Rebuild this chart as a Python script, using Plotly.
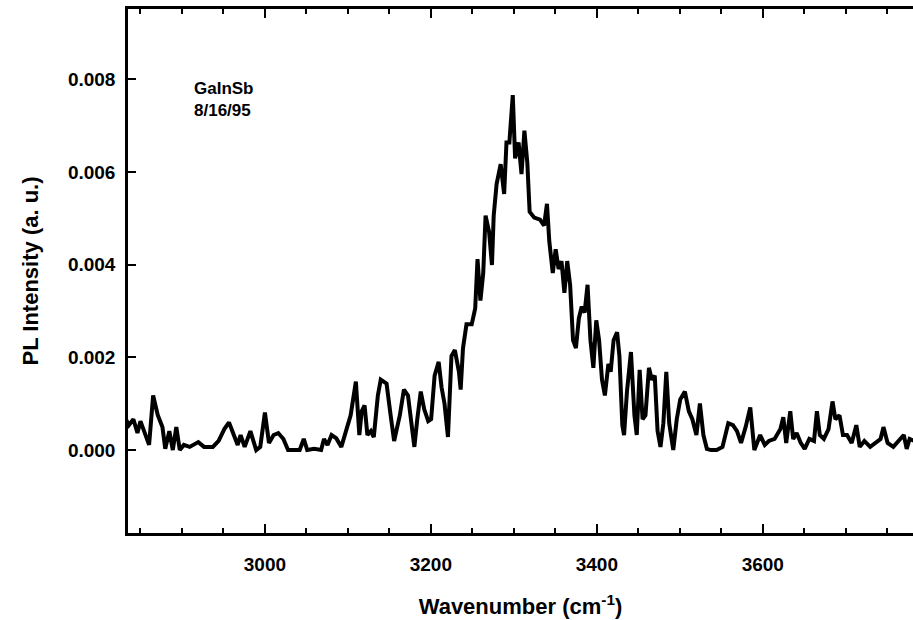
import plotly.graph_objects as go

# Wavenumber (cm^-1)
wavenumber = [
    2832.5, 2836.0, 2841.5, 2846.4, 2850.0, 2855.5, 2860.4, 2865.3, 2870.9, 2876.5,
    2879.9, 2884.8, 2889.0, 2893.2, 2897.4, 2902.3, 2909.3, 2919.7, 2926.7, 2937.2,
    2944.2, 2951.1, 2956.7, 2961.6, 2967.2, 2970.7, 2975.6, 2982.5, 2989.5, 2994.4,
    3000.0, 3004.9, 3010.5, 3016.1, 3022.3, 3027.9, 3034.9, 3041.9, 3046.8, 3051.0,
    3059.3, 3067.7, 3071.2, 3075.4, 3080.3, 3085.9, 3092.1, 3097.7, 3103.3, 3109.6,
    3113.8, 3116.6, 3120.1, 3123.5, 3127.7, 3131.2, 3136.1, 3139.6, 3146.6, 3151.5,
    3155.7, 3162.6, 3167.5, 3172.4, 3175.9, 3180.1, 3183.6, 3187.8, 3192.0, 3196.8,
    3200.3, 3204.5, 3209.4, 3212.9, 3216.4, 3220.6, 3224.8, 3228.9, 3233.8, 3235.9,
    3238.7, 3242.9, 3249.2, 3253.4, 3256.2, 3259.7, 3263.1, 3265.9, 3270.1, 3273.6,
    3275.7, 3279.2, 3284.1, 3288.3, 3291.1, 3294.6, 3298.7, 3301.5, 3305.7, 3309.2,
    3312.7, 3316.2, 3319.0, 3324.6, 3331.6, 3336.4, 3339.9, 3342.7, 3346.9, 3350.4,
    3353.9, 3357.4, 3360.9, 3364.3, 3367.8, 3371.3, 3374.8, 3378.3, 3381.8, 3385.3,
    3388.8, 3392.3, 3395.8, 3399.3, 3402.7, 3406.2, 3409.7, 3413.9, 3416.7, 3420.2,
    3424.4, 3427.2, 3430.7, 3432.8, 3436.3, 3441.1, 3445.3, 3448.1, 3451.6, 3455.1,
    3458.6, 3462.8, 3466.3, 3469.8, 3473.2, 3476.7, 3480.2, 3483.7, 3487.2, 3492.1,
    3496.3, 3500.5, 3506.1, 3510.9, 3515.1, 3520.0, 3524.2, 3528.4, 3532.6, 3537.5,
    3544.4, 3551.4, 3558.4, 3564.0, 3568.9, 3573.8, 3579.3, 3584.9, 3589.8, 3596.8,
    3602.4, 3607.3, 3614.2, 3621.2, 3624.7, 3628.2, 3633.1, 3636.6, 3640.8, 3645.7,
    3650.5, 3656.1, 3661.7, 3665.2, 3668.7, 3673.6, 3679.2, 3684.0, 3687.5, 3692.4,
    3696.6, 3701.5, 3707.1, 3712.7, 3716.8, 3722.4, 3729.4, 3736.4, 3741.9, 3745.4,
    3750.4, 3757.3, 3764.3, 3769.9, 3773.4, 3776.9, 3782.0,
]

# PL intensity (a. u.)
intensity = [
    0.000665, 0.000537, 0.000665, 0.000367, 0.000623, 0.000324, 0.000111, 0.001177, 0.000751, 0.000495,
    0.000026, 0.000409, 0.000000, 0.000495, 0.000000, 0.000111, 0.000068, 0.000171, 0.000068, 0.000068,
    0.000196, 0.000452, 0.000597, 0.000367, 0.000111, 0.000324, 0.000068, 0.000409, 0.000000, 0.000068,
    0.000810, 0.000154, 0.000324, 0.000367, 0.000239, 0.000000, 0.000000, 0.000000, 0.000239, 0.000000,
    0.000026, 0.000000, 0.000239, 0.000111, 0.000324, 0.000256, 0.000068, 0.000452, 0.000751, 0.001476,
    0.000324, 0.000836, 0.000964, 0.000324, 0.000409, 0.000281, 0.001177, 0.001518, 0.001433, 0.000751,
    0.000196, 0.000751, 0.001305, 0.001177, 0.000665, 0.000068, 0.000665, 0.001262, 0.000879, 0.000623,
    0.000665, 0.001604, 0.001902, 0.001348, 0.001006, 0.000281, 0.002030, 0.002158, 0.001689, 0.001305,
    0.002200, 0.002712, 0.002712, 0.003054, 0.004120, 0.003224, 0.003821, 0.005058, 0.004717, 0.003992,
    0.005058, 0.005740, 0.006167, 0.005527, 0.006636, 0.006636, 0.007660, 0.006295, 0.006636, 0.005954,
    0.006892, 0.006209, 0.005143, 0.005015, 0.004973, 0.004845, 0.005314, 0.004504, 0.003821, 0.004333,
    0.003906, 0.004077, 0.003395, 0.004077, 0.003565, 0.002371, 0.002200, 0.002840, 0.003096, 0.002968,
    0.003565, 0.002371, 0.001774, 0.002798, 0.002371, 0.001518, 0.001177, 0.001859, 0.001689, 0.002371,
    0.002542, 0.002030, 0.000537, 0.000324, 0.001262, 0.002115, 0.000751, 0.000324, 0.001731, 0.000665,
    0.000751, 0.001774, 0.001518, 0.001604, 0.000409, 0.000068, 0.000580, 0.001689, 0.000580, 0.000000,
    0.000665, 0.001092, 0.001262, 0.000836, 0.000665, 0.000324, 0.001006, 0.000324, 0.000026, 0.000000,
    0.000000, 0.000068, 0.000580, 0.000537, 0.000409, 0.000154, 0.000495, 0.000921, 0.000000, 0.000324,
    0.000111, 0.000196, 0.000239, 0.000452, 0.000708, 0.000154, 0.000836, 0.000239, 0.000367, 0.000154,
    0.000026, 0.000239, 0.000196, 0.000836, 0.000324, 0.000239, 0.000452, 0.001049, 0.000665, 0.000751,
    0.000324, 0.000324, 0.000154, 0.000537, 0.000068, 0.000196, 0.000068, 0.000154, 0.000239, 0.000495,
    0.000154, 0.000068, 0.000196, 0.000324, 0.000026, 0.000239, 0.000200,
]

y_ticktext = ["0.000", "0.002", "0.004", "0.006", "0.008"]
y_tickvals = [0.000, 0.002, 0.004, 0.006, 0.008]

FONT = "Liberation Sans, Arial, sans-serif"

fig = go.Figure()
fig.add_trace(go.Scatter(
    x=wavenumber, y=intensity, mode="lines",
    line=dict(color="black", width=4),
    showlegend=False, hoverinfo="skip",
))

fig.add_annotation(
    x=2912, y=0.00804, xref="x", yref="y",
    text="GaInSb<br>8/16/95", showarrow=False,
    xanchor="left", yanchor="top", align="left",
    font=dict(family=FONT, size=17, color="black", weight="bold"),
)

fig.update_layout(
    width=913, height=620,
    margin=dict(l=128, r=0, t=9, b=87),
    paper_bgcolor="white", plot_bgcolor="white",
    font=dict(family=FONT, color="black", weight="bold"),
)

fig.update_xaxes(
    range=[2835, 3781],
    tickmode="linear", tick0=3000, dtick=200,
    ticks="inside", ticklen=9, tickwidth=2, tickcolor="black",
    minor=dict(tickmode="linear", tick0=3000, dtick=50, ticks="inside",
               ticklen=5, tickwidth=2, tickcolor="black", showgrid=False),
    showline=True, linecolor="black", linewidth=2.5, mirror="allticks",
    showgrid=False, zeroline=False,
    tickfont=dict(family=FONT, size=19, color="black", weight="bold"),
    ticklabelstandoff=12,
    title=dict(text="Wavenumber (cm<sup>-1</sup>)", standoff=26,
               font=dict(family=FONT, size=22, color="black", weight="bold")),
    automargin=False,
)

fig.update_yaxes(
    range=[-0.00179, 0.009517],
    tickvals=y_tickvals, ticktext=y_ticktext,
    ticks="inside", ticklen=8, tickwidth=2, tickcolor="black",
    showline=True, linecolor="black", linewidth=2.5, mirror=False,
    showgrid=False, zeroline=False,
    tickfont=dict(family=FONT, size=19, color="black", weight="bold"),
    ticklabelstandoff=6,
    title=dict(text="PL Intensity (a. u.)", standoff=24,
               font=dict(family=FONT, size=22, color="black", weight="bold")),
    automargin=False,
)

fig.write_html("out.html")
